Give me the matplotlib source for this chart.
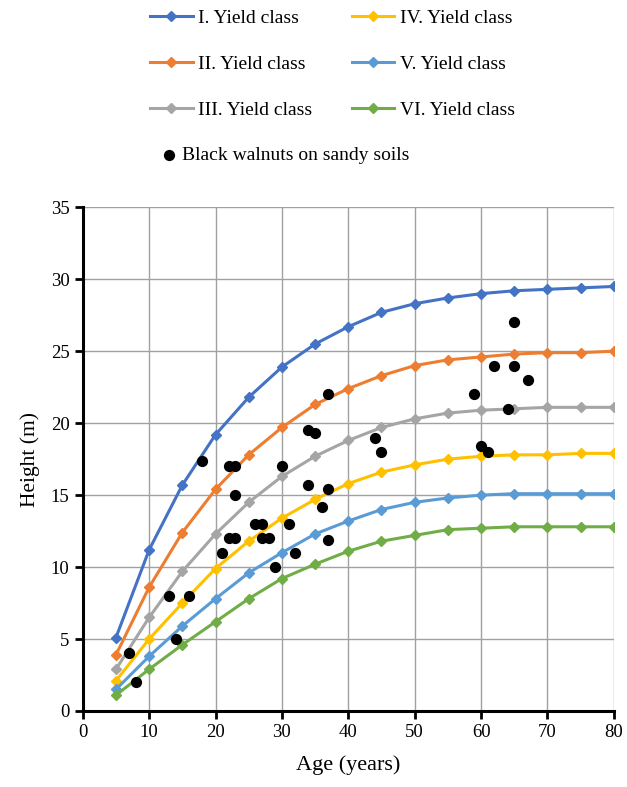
import matplotlib.pyplot as plt

plt.rcParams['font.family'] = ['Liberation Serif', 'DejaVu Serif']

age = [5, 10, 15, 20, 25, 30, 35, 40, 45, 50, 55, 60, 65, 70, 75, 80]
class_1 = [5.1, 11.2, 15.7, 19.2, 21.8, 23.9, 25.5, 26.7, 27.7, 28.3, 28.7, 29.0, 29.2, 29.3, 29.4, 29.5]
class_2 = [3.9, 8.6, 12.4, 15.4, 17.8, 19.7, 21.3, 22.4, 23.3, 24.0, 24.4, 24.6, 24.8, 24.9, 24.9, 25.0]
class_3 = [2.9, 6.5, 9.7, 12.3, 14.5, 16.3, 17.7, 18.8, 19.7, 20.3, 20.7, 20.9, 21.0, 21.1, 21.1, 21.1]
class_4 = [2.1, 5.0, 7.5, 9.9, 11.8, 13.4, 14.7, 15.8, 16.6, 17.1, 17.5, 17.7, 17.8, 17.8, 17.9, 17.9]
class_5 = [1.5, 3.8, 5.9, 7.8, 9.6, 11.0, 12.3, 13.2, 14.0, 14.5, 14.8, 15.0, 15.1, 15.1, 15.1, 15.1]
class_6 = [1.1, 2.9, 4.6, 6.2, 7.8, 9.2, 10.2, 11.1, 11.8, 12.2, 12.6, 12.7, 12.8, 12.8, 12.8, 12.8]

walnut_age = [7, 8, 13, 14, 16, 18, 21, 22, 22, 23, 23, 23, 26, 27, 27, 28, 29, 30, 31,
              32, 34, 34, 35, 36, 37, 37, 37, 44, 45, 59, 60, 61, 62, 64, 65, 65, 67]
walnut_height = [4, 2, 8, 5, 8, 17.4, 11, 17, 12, 17, 15, 12, 13, 13, 12, 12, 10, 17, 13,
                 11, 19.5, 15.7, 19.3, 14.2, 22, 15.4, 11.9, 19, 18, 22, 18.4, 18, 24, 21, 27, 24, 23]

labels = ['I. Yield class', 'II. Yield class', 'III. Yield class',
          'IV. Yield class', 'V. Yield class', 'VI. Yield class']
colors = ['#4472C4', '#ED7D31', '#A5A5A5', '#FFC000', '#5B9BD5', '#70AD47']
series = [class_1, class_2, class_3, class_4, class_5, class_6]

fig = plt.figure(figsize=(6.27, 7.87), dpi=100)
ax = fig.add_axes([0.132, 0.0966, 0.847, 0.640])

handles = []
for vals, col, lab in zip(series, colors, labels):
    h, = ax.plot(age, vals, color=col, lw=2.2, marker='D', ms=5, label=lab, zorder=3)
    handles.append(h)

sc = ax.scatter(walnut_age, walnut_height, s=50, color='black', zorder=4,
                label='Black walnuts on sandy soils')

ax.set_xlim(0, 80)
ax.set_ylim(0, 35)
ax.set_xticks(range(0, 81, 10))
ax.set_yticks(range(0, 36, 5))
ax.grid(color='#A0A0A0', lw=1)
ax.set_axisbelow(True)
for s in ['top', 'right']:
    ax.spines[s].set_visible(False)
for s in ['left', 'bottom']:
    ax.spines[s].set_linewidth(2.2)
ax.tick_params(width=2, length=6, labelsize=13.5)
ax.set_xlabel('Age (years)', fontsize=16, labelpad=10)
ax.set_ylabel('Height (m)', fontsize=15.5, labelpad=8)

# legend: three blocks to mimic the staggered layout
leg_kw = dict(frameon=False, loc='upper left', fontsize=14, labelspacing=1.45,
              handlelength=2.2, handletextpad=0.3)
fig.legend(handles[:3], labels[:3], bbox_to_anchor=(0.211, 1.010), **leg_kw)
fig.legend(handles[3:], labels[3:], bbox_to_anchor=(0.533, 1.010), **leg_kw)
fig.legend([sc], [sc.get_label()], frameon=False, loc='upper left', fontsize=14,
           handlelength=1.0, handletextpad=0.15, bbox_to_anchor=(0.226, 0.836))

fig.savefig('out.png', dpi=100)
